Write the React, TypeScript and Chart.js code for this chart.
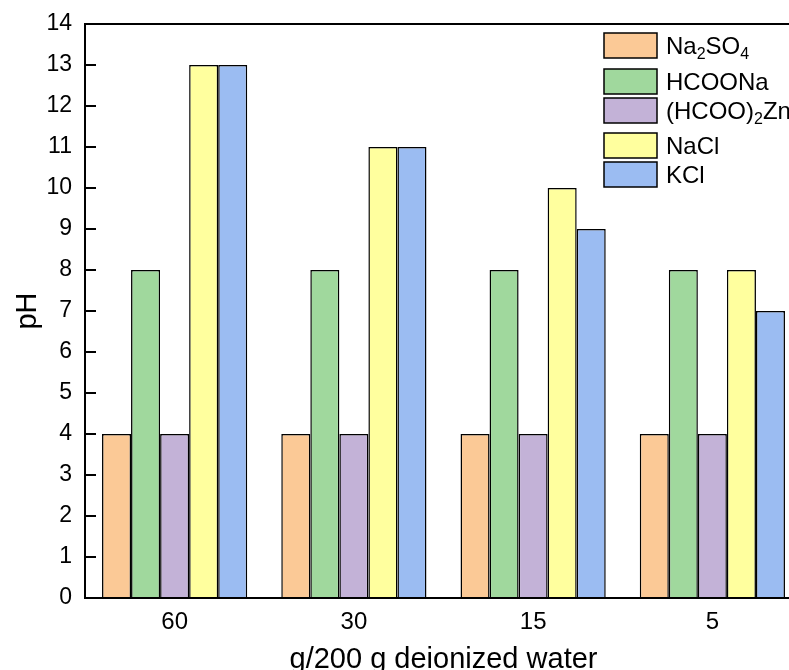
import React, { useEffect, useRef } from "react";
import { Chart, registerables } from "chart.js";

Chart.register(...registerables);

const categories = ["60", "30", "15", "5"];
const seriesNames = ["Na2SO4", "HCOONa", "(HCOO)2Zn", "NaCl", "KCl"];
const legendParts: [string, boolean][][] = [
  [["Na", false], ["2", true], ["SO", false], ["4", true]],
  [["HCOONa", false]],
  [["(HCOO)", false], ["2", true], ["Zn", false]],
  [["NaCl", false]],
  [["KCl", false]],
];
const na2so4 = [4, 4, 4, 4];
const hcoona = [8, 8, 8, 8];
const hcooZn = [4, 4, 4, 4];
const nacl = [13, 11, 10, 8];
const kcl = [13, 11, 9, 7];
const colors = ["#FBC996", "#A0D89D", "#C3B2D7", "#FFFF9E", "#9BBCF2"];
const yTicks = [0, 1, 2, 3, 4, 5, 6, 7, 8, 9, 10, 11, 12, 13, 14];
const xTitle = "g/200 g deionized water";
const yTitle = "pH";

const FONT = "Arial, 'Liberation Sans', sans-serif";

const framePlugin = {
  id: "frame",
  afterDatasetsDraw(chart: any) {
    const { ctx, chartArea, scales } = chart;
    const y = scales.y;
    ctx.save();
    ctx.strokeStyle = "#000";
    ctx.lineWidth = 2;
    ctx.beginPath();
    ctx.moveTo(chartArea.left, chartArea.top);
    ctx.lineTo(chartArea.left, chartArea.bottom);
    ctx.lineTo(chartArea.right, chartArea.bottom);
    ctx.lineTo(chartArea.right, chartArea.top);
    ctx.closePath();
    ctx.stroke();
    ctx.lineWidth = 2;
    yTicks.forEach((v) => {
      const py = Math.round(y.getPixelForValue(v));
      ctx.beginPath();
      ctx.moveTo(chartArea.left, py);
      ctx.lineTo(chartArea.left + 11, py);
      ctx.stroke();
    });
    // titles
    ctx.fillStyle = "#000";
    ctx.font = `29px ${FONT}`;
    ctx.textAlign = "center";
    ctx.textBaseline = "alphabetic";
    ctx.fillText(xTitle, (chartArea.left + chartArea.right) / 2, 668);
    ctx.save();
    ctx.translate(36, (chartArea.top + chartArea.bottom) / 2);
    ctx.rotate(-Math.PI / 2);
    ctx.fillText(yTitle, 0, 0);
    ctx.restore();
    // legend
    const boxX = 604;
    const boxW = 53;
    const boxH = 25;
    const boxTops = [33, 69, 98, 133, 162];
    ctx.lineWidth = 1.5;
    seriesNames.forEach((_, i) => {
      const top = boxTops[i];
      ctx.fillStyle = colors[i];
      ctx.fillRect(boxX, top, boxW, boxH);
      ctx.strokeStyle = "#000";
      ctx.strokeRect(boxX, top, boxW, boxH);
      let tx = 666;
      const base = top + boxH / 2 + 8;
      ctx.fillStyle = "#000";
      ctx.textAlign = "left";
      ctx.textBaseline = "alphabetic";
      legendParts[i].forEach(([t, sub]) => {
        ctx.font = sub ? `16px ${FONT}` : `24px ${FONT}`;
        ctx.fillText(t, tx, sub ? base + 5 : base);
        tx += ctx.measureText(t).width;
      });
    });
    ctx.restore();
  },
};

export default function App() {
  const ref = useRef<HTMLCanvasElement>(null);
  useEffect(() => {
    if (!ref.current) return;
    const series = [na2so4, hcoona, hcooZn, nacl, kcl];
    const chart = new Chart(ref.current, {
      type: "bar",
      data: {
        labels: categories,
        datasets: series.map((d, i) => ({
          label: seriesNames[i],
          data: d,
          backgroundColor: colors[i],
          borderColor: "#000",
          borderWidth: 1.5,
          categoryPercentage: 0.81,
          barPercentage: 1,
        })),
      },
      options: {
        responsive: false,
        animation: false,
        layout: { padding: { top: 24, right: 3, left: 0, bottom: 0 } },
        plugins: { legend: { display: false }, tooltip: { enabled: false } },
        scales: {
          x: {
            grid: { display: false, drawTicks: false },
            border: { display: false },
            ticks: { color: "#000", font: { size: 24, family: FONT }, padding: 10 },
            afterFit(scale: any) {
              scale.height = 72;
            },
          },
          y: {
            min: 0,
            max: 14,
            grid: { display: false, drawTicks: false },
            border: { display: false },
            ticks: {
              stepSize: 1,
              color: "#000",
              font: { size: 23, family: FONT, lineHeight: 1 },
              padding: 13,
            },
            afterFit(scale: any) {
              scale.width = 85;
              scale.paddingTop = 0;
              scale.paddingBottom = 0;
            },
          },
        },
      },
      plugins: [framePlugin],
    });
    return () => chart.destroy();
  }, []);
  return (
    <div
      style={{
        position: "absolute",
        left: 0,
        top: 0,
        width: 789,
        height: 670,
        overflow: "hidden",
        background: "#fff",
      }}
    >
      <canvas ref={ref} width={805} height={670} style={{ display: "block" }} />
    </div>
  );
}
